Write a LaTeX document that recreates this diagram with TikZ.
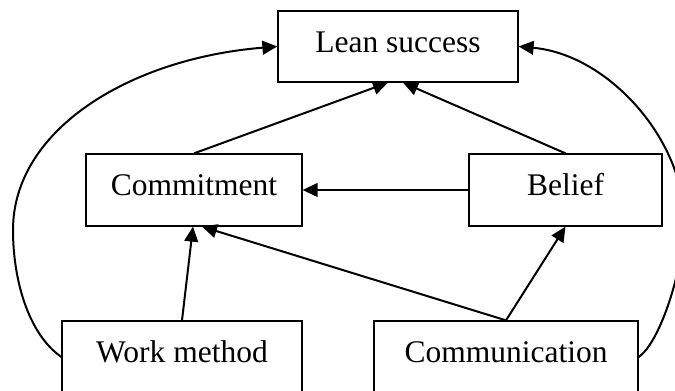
\documentclass[tikz,border=0pt]{standalone}
\usepackage{fontspec}
\setmainfont{Liberation Serif}
\usetikzlibrary{positioning,arrows.meta,calc}

\begin{document}
\begin{tikzpicture}[
x=0.4pt, y=0.4pt,
rectnode/.style={rectangle, draw=black, line width=0.5pt, minimum height=28.8pt, inner sep=0pt,
    text height=8pt, text depth=3.4pt, font=\fontsize{12.6}{15}\selectfont},
linkarrow/.style={-{Triangle[length=6pt,width=5.5pt]}, line width=0.8pt}
]
    \useasboundingbox (0,0) rectangle (675,391);
    %Nodes
    \node[rectnode, minimum width=96pt, minimum height=28.4pt]
        (lean)      at (398,344.5)  {Lean success};
    \node[rectnode, minimum width=86.4pt]
        (commit)    at (194,201)    {Commitment};
    \node[rectnode, minimum width=77.2pt]
        (belief)    at (565.5,201)  {Belief};
    \node[rectnode, minimum width=96pt]
        (work)      at (182,34)     {Work method};
    \node[rectnode, minimum width=105.6pt]
        (comm)      at (506,34)     {Communication};

    %Waypoints of the side curves
    \coordinate (lbend) at (13,161);
    \coordinate (rbend) at (684,171);

    %Lines
    \draw[linkarrow] (commit.north) -- ($(lean.south)+(-10,0)$);
    \draw[linkarrow] (belief.north) -- ($(lean.south)+(5,0)$);
    \draw[linkarrow] (belief.west) -- (commit.east);
    \draw[linkarrow] (work.north) -- ($(commit.south)+(-1,0)$);
    \draw[linkarrow] (comm.north) -- ($(commit.south)+(8,0)$);
    \draw[linkarrow] (comm.north) -- (belief.south);

    %Side curves
    \draw[linkarrow] (work.west) .. controls +(-33,23) and +(0,-50) .. (lbend)
        .. controls +(0,100) and +(-148,-12) .. (lean.west);
    \draw[linkarrow] (comm.east) .. controls +(21,14) and +(0,-50) .. (rbend)
        .. controls +(0,80) and +(90,-8) .. (lean.east);
\end{tikzpicture}
\end{document}
